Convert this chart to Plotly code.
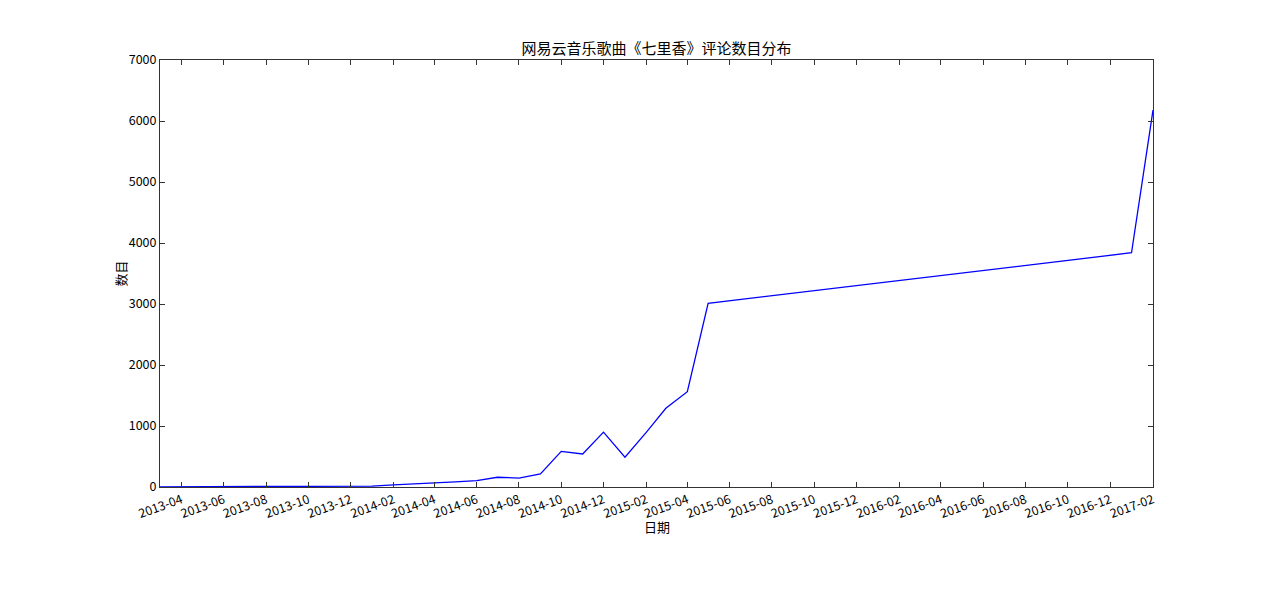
import plotly.graph_objects as go

dates = ["2013-03-01", "2013-04-01", "2013-05-01", "2013-06-01", "2013-07-01", "2013-08-01",
         "2013-09-01", "2013-10-01", "2013-11-01", "2013-12-01", "2014-01-01", "2014-02-01",
         "2014-03-01", "2014-04-01", "2014-05-01", "2014-06-01", "2014-07-01", "2014-08-01",
         "2014-09-01", "2014-10-01", "2014-11-01", "2014-12-01", "2015-01-01", "2015-02-01",
         "2015-03-01", "2015-04-01", "2015-05-01", "2017-01-01", "2017-02-01"]
counts = [3, 5, 6, 8, 7, 9, 12, 15, 13, 12, 14, 35, 48, 62, 85, 105, 160, 147, 213, 585,
          541, 900, 487, 900, 1290, 1562, 3010, 3840, 6180]

tick_labels = ["2013-04", "2013-06", "2013-08", "2013-10", "2013-12", "2014-02", "2014-04",
               "2014-06", "2014-08", "2014-10", "2014-12", "2015-02", "2015-04", "2015-06",
               "2015-08", "2015-10", "2015-12", "2016-02", "2016-04", "2016-06", "2016-08",
               "2016-10", "2016-12", "2017-02"]
y_ticks = [0, 1000, 2000, 3000, 4000, 5000, 6000, 7000]

title = "网易云音乐歌曲《七里香》评论数目分布"
x_title = "日期"
y_title = "数目"

FONT = "Noto Sans CJK SC, DejaVu Sans, sans-serif"

# page body has an 8px margin, so the figure is placed at (8, 8)
W, H = 1264, 592
L, R, T, B = 152, 1145, 52, 479   # plot area in figure pixels

fig = go.Figure()
fig.add_trace(go.Scatter(x=dates, y=counts, mode="lines",
                         line=dict(color="#0000ff", width=1.3), showlegend=False))

axis_common = dict(showline=True, linecolor="#333333", linewidth=1, mirror="ticks",
                   ticks="inside", ticklen=5, tickcolor="#333333", tickwidth=1,
                   showgrid=False, zeroline=False,
                   tickfont=dict(family=FONT, size=12.5, color="#000000"))

fig.update_layout(
    width=W, height=H,
    margin=dict(l=L, r=W - R, t=T, b=H - B, pad=0),
    paper_bgcolor="white", plot_bgcolor="white",
    font=dict(family=FONT, size=12, color="#000000"),
    title=dict(text=title, x=(L + R) / 2 / W, xanchor="center",
               y=1 - 41 / H, yanchor="middle", font=dict(family=FONT, size=15)),
    xaxis=dict(type="date", range=[dates[0], dates[-1]],
               tickvals=[t + "-01" for t in tick_labels], ticktext=tick_labels,
               tickangle=-20, **axis_common),
    yaxis=dict(range=[0, 7000], tickvals=y_ticks, ticktext=[str(v) for v in y_ticks],
               **axis_common),
    annotations=[
        dict(text=x_title, xref="paper", yref="paper", x=0.5, y=(B - 518) / (B - T),
             xanchor="center", yanchor="middle", showarrow=False,
             font=dict(family=FONT, size=13)),
        dict(text=y_title, xref="paper", yref="paper", x=(112 - L) / (R - L), y=0.5,
             xanchor="center", yanchor="middle", showarrow=False, textangle=-90,
             font=dict(family=FONT, size=13)),
    ],
)

fig.write_html("out.html")
